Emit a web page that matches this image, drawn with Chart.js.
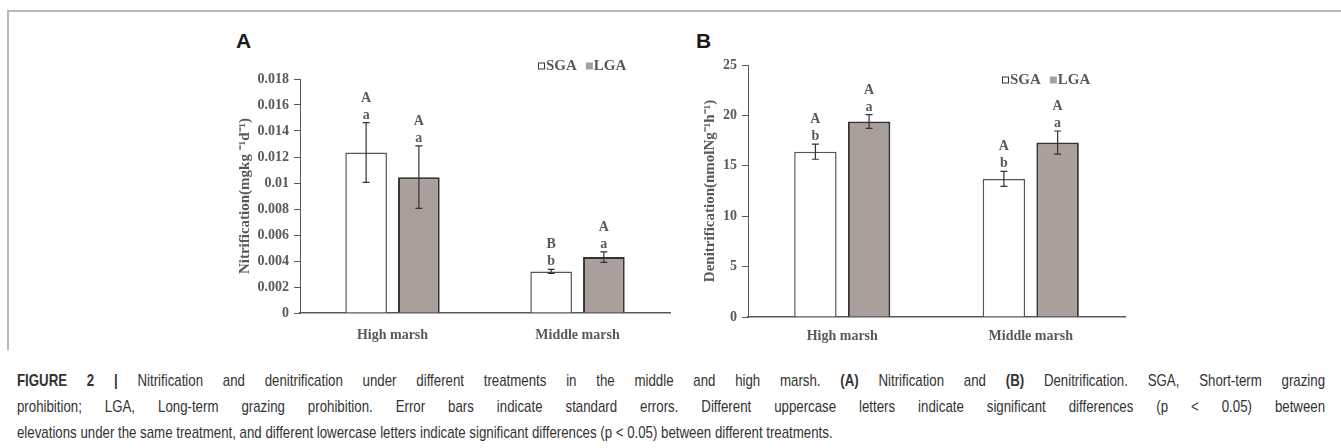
<!DOCTYPE html>
<html>
<head>
<meta charset="utf-8">
<script src="https://cdn.jsdelivr.net/npm/chart.js@4.4.1/dist/chart.umd.min.js"></script>
<style>
  body { margin: 0; background: #fff; width: 1341px; height: 448px; overflow: hidden; position: relative; }
  .frame-top { position: absolute; left: 7px; top: 10px; width: 1334px; border-top: 2px solid #b8b8b8; }
  .frame-left { position: absolute; left: 7px; top: 10px; height: 340px; border-left: 2px solid #b8b8b8; }
  .panel { position: absolute; font: bold 21px 'Liberation Sans', Arial, sans-serif; color: #1a1a1a; line-height: 21px; }
  canvas { position: absolute; }
  /* narrow caption face: regular sans squeezed horizontally */
  .caption { position: absolute; left: 17px; top: 368px; width: 1677px; font: 17px 'Liberation Sans', Arial, sans-serif; color: #333; line-height: 26px; transform: scaleX(0.78); transform-origin: 0 0; }
  .caption div.j { text-align: justify; text-align-last: justify; }
</style>
</head>
<body>
<div class="frame-top"></div>
<div class="frame-left"></div>
<div class="panel" style="left:236px; top:30px;">A</div>
<div class="panel" style="left:696px; top:30px;">B</div>
<canvas id="nitri" width="510" height="330" style="left:170px; top:20px;"></canvas>
<canvas id="denit" width="450" height="330" style="left:685px; top:20px;"></canvas>
<div class="caption">
  <div class="j"><b>FIGURE 2 |</b> Nitrification and denitrification under different treatments in the middle and high marsh. <b>(A)</b> Nitrification and <b>(B)</b> Denitrification. SGA, Short-term grazing</div>
  <div class="j">prohibition; LGA, Long-term grazing prohibition. Error bars indicate standard errors. Different uppercase letters indicate significant differences (p &lt; 0.05) between</div>
  <div>elevations under the same treatment, and different lowercase letters indicate significant differences (p &lt; 0.05) between different treatments.</div>
</div>
<script>
const categories = ['High marsh', 'Middle marsh'];

// panel A - nitrification
const nitriSGA = [0.01235, 0.0032];
const nitriSGAErr = [0.0023, 0.00015];
const nitriLGA = [0.01045, 0.0043];
const nitriLGAErr = [0.0024, 0.0004];
const nitriSGAUpper = ['A', 'B'];
const nitriSGALower = ['a', 'b'];
const nitriLGAUpper = ['A', 'A'];
const nitriLGALower = ['a', 'a'];
const nitriTicks = [0, 0.002, 0.004, 0.006, 0.008, 0.01, 0.012, 0.014, 0.016, 0.018];
const nitriTickLabels = ['0', '0.002', '0.004', '0.006', '0.008', '0.01', '0.012', '0.014', '0.016', '0.018'];

// panel B - denitrification
const denitSGA = [16.4, 13.7];
const denitSGAErr = [0.75, 0.75];
const denitLGA = [19.4, 17.3];
const denitLGAErr = [0.68, 1.15];
const denitSGAUpper = ['A', 'A'];
const denitSGALower = ['b', 'b'];
const denitLGAUpper = ['A', 'A'];
const denitLGALower = ['a', 'a'];
const denitTicks = [0, 5, 10, 15, 20, 25];
const denitTickLabels = ['0', '5', '10', '15', '20', '25'];

const textColor = '#595959';
const axisColor = '#595959';
const serif = "'Liberation Serif', 'Times New Roman', serif";

// error bars plus the significance letters over each bar
const annotate = {
    id: 'annotate',
    afterDatasetsDraw(chart) {
        const ctx = chart.ctx;
        const y = chart.scales.y;
        chart.data.datasets.forEach((ds, di) => {
            chart.getDatasetMeta(di).data.forEach((bar, i) => {
                const v = ds.data[i], e = ds.errors[i];
                const top = y.getPixelForValue(v + e);
                const bot = y.getPixelForValue(v - e);
                ctx.save();
                ctx.strokeStyle = '#333';
                ctx.lineWidth = 1.2;
                ctx.beginPath();
                ctx.moveTo(bar.x, top); ctx.lineTo(bar.x, bot);
                ctx.moveTo(bar.x - 3.5, top); ctx.lineTo(bar.x + 3.5, top);
                ctx.moveTo(bar.x - 3.5, bot); ctx.lineTo(bar.x + 3.5, bot);
                ctx.stroke();
                ctx.fillStyle = textColor;
                ctx.font = 'bold 14px ' + serif;
                ctx.textAlign = 'center';
                ctx.textBaseline = 'alphabetic';
                ctx.fillText(ds.lower[i], bar.x, top - 4);
                ctx.fillText(ds.upper[i], bar.x, top - 21);
                ctx.restore();
            });
        });
    }
};

// small "□SGA ■LGA" legend
const boxLegend = {
    id: 'boxLegend',
    afterDraw(chart, args, opts) {
        const ctx = chart.ctx;
        const area = chart.chartArea;
        let x = area.left + opts.dx;
        const y = area.top + opts.dy;
        const s = 7;
        ctx.save();
        ctx.font = 'bold 15px ' + serif;
        ctx.textBaseline = 'middle';
        ctx.textAlign = 'left';
        chart.data.datasets.forEach(ds => {
            ctx.fillStyle = ds.backgroundColor;
            ctx.fillRect(x, y - s / 2, s, s);
            if (ds.legendOutline) {
                ctx.strokeStyle = '#333';
                ctx.lineWidth = 1;
                ctx.strokeRect(x + 0.5, y - s / 2 + 0.5, s - 1, s - 1);
            }
            x += s + 1;
            ctx.fillStyle = textColor;
            ctx.fillText(ds.label, x, y);
            x += ctx.measureText(ds.label).width + 9;
        });
        ctx.restore();
    }
};

function makeChart(id, p) {
    return new Chart(document.getElementById(id), {
        type: 'bar',
        data: {
            labels: categories,
            datasets: [{
                label: 'SGA',
                data: p.sga,
                errors: p.sgaErr,
                upper: p.sgaUpper,
                lower: p.sgaLower,
                backgroundColor: '#ffffff',
                borderColor: '#555555',
                borderWidth: 1.5,
                legendOutline: true,
            }, {
                label: 'LGA',
                data: p.lga,
                errors: p.lgaErr,
                upper: p.lgaUpper,
                lower: p.lgaLower,
                backgroundColor: '#ab9f9b',
                borderColor: '#333333',
                borderWidth: 2,
            }]
        },
        options: {
            responsive: false,
            animation: false,
            devicePixelRatio: 1,
            events: [],
            categoryPercentage: 0.57,
            barPercentage: 0.79,
            layout: { padding: { left: 0, top: p.padTop, right: 10, bottom: 0 } },
            plugins: {
                legend: { display: false },
                tooltip: { enabled: false },
                boxLegend: p.legend,
            },
            scales: {
                x: {
                    grid: { display: false, drawTicks: false },
                    border: { color: axisColor, width: 1.5 },
                    ticks: { color: textColor, font: { family: serif, size: 14, weight: 'bold' }, padding: p.xPad },
                    afterFit: s => { s.height = p.xHeight; },
                },
                y: {
                    min: 0,
                    max: p.ticks[p.ticks.length - 1],
                    afterBuildTicks: s => { s.ticks = p.ticks.map(v => ({ value: v })); },
                    afterFit: s => { s.width = p.yWidth; },
                    ticks: {
                        color: textColor,
                        font: { family: serif, size: 14, weight: 'bold' },
                        padding: 5,
                        callback: (v, i) => p.tickLabels[i],
                    },
                    grid: { drawOnChartArea: false, tickLength: 6, color: axisColor },
                    border: { color: axisColor, width: 1 },
                    title: {
                        display: true,
                        text: p.title,
                        color: textColor,
                        font: { family: serif, size: 15, weight: 'bold' },
                        padding: { top: p.titlePad, bottom: 0 },
                    },
                },
            },
        },
        plugins: [annotate, boxLegend],
    });
}

makeChart('nitri', {
    sga: nitriSGA, sgaErr: nitriSGAErr, sgaUpper: nitriSGAUpper, sgaLower: nitriSGALower,
    lga: nitriLGA, lgaErr: nitriLGAErr, lgaUpper: nitriLGAUpper, lgaLower: nitriLGALower,
    ticks: nitriTicks, tickLabels: nitriTickLabels,
    title: 'Nitrification(mgkg \u207B\u00B9d\u207B\u00B9)',
    padTop: 59, xHeight: 37, yWidth: 130, titlePad: 66, xPad: 14,
    legend: { dx: 238, dy: -13 },
});

makeChart('denit', {
    sga: denitSGA, sgaErr: denitSGAErr, sgaUpper: denitSGAUpper, sgaLower: denitSGALower,
    lga: denitLGA, lgaErr: denitLGAErr, lgaUpper: denitLGAUpper, lgaLower: denitLGALower,
    ticks: denitTicks, tickLabels: denitTickLabels,
    title: 'Denitrification(nmolNg\u207B\u00B9h\u207B\u00B9)',
    padTop: 45, xHeight: 33, yWidth: 63, titlePad: 16, xPad: 11,
    legend: { dx: 254, dy: 15 },
});
</script>
</body>
</html>
